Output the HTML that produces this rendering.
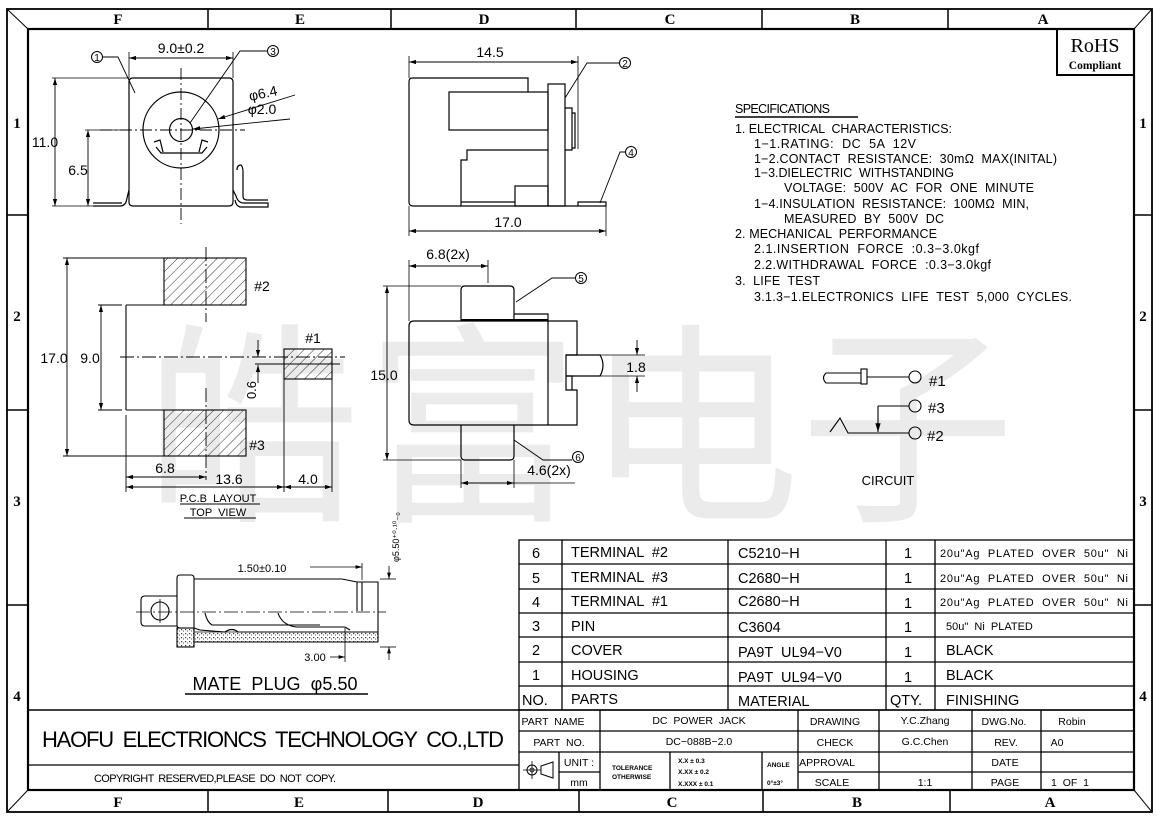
<!DOCTYPE html>
<html><head><meta charset="utf-8"><style>
html,body{margin:0;padding:0;background:#fff;}
svg{display:block;}
text{font-family:"Liberation Sans","Noto Sans CJK SC",sans-serif;fill:#000;white-space:pre;}
.s{font-family:"Liberation Serif",serif;font-weight:bold;}
</style></head><body>
<svg width="1157" height="820" viewBox="0 0 1157 820" xmlns="http://www.w3.org/2000/svg" xml:space="preserve">
<defs>
<pattern id="h" width="7" height="7" patternUnits="userSpaceOnUse" patternTransform="rotate(45)">
<line x1="0" y1="0" x2="0" y2="7" stroke="#000" stroke-width="0.8"/></pattern>
<pattern id="dots" width="4" height="4" patternUnits="userSpaceOnUse">
<rect x="1" y="1" width="1.2" height="1.2" fill="#333"/><rect x="3" y="2.5" width="1" height="1" fill="#555"/></pattern>
<marker id="a" viewBox="0 0 10 6" refX="10" refY="3" markerWidth="8" markerHeight="5" orient="auto-start-reverse"><path d="M0,0L10,3L0,6z" fill="#000"/></marker>
</defs>
<rect width="1157" height="820" fill="#fff"/>
<!-- watermark -->
<g font-family="'Noto Sans CJK SC',sans-serif" font-size="215">
<text x="145" y="505" style="fill:#ebebeb">皓</text>
<text x="365" y="505" style="fill:#ebebeb">富</text>
<text x="585" y="505" style="fill:#ebebeb">电</text>
<text x="800" y="505" style="fill:#ebebeb">子</text>
</g>
<!-- frame -->
<g stroke="#000" fill="none">
<rect x="7" y="9" width="1145" height="803" stroke-width="1.8"/>
<rect x="28" y="29" width="1106" height="761" stroke-width="2.2"/>
<line x1="7" y1="9" x2="28" y2="29"/><line x1="1152" y1="9" x2="1134" y2="29"/>
<line x1="7" y1="812" x2="28" y2="790"/><line x1="1152" y1="812" x2="1134" y2="790"/>
<g stroke-width="1.5">
<line x1="208" y1="9" x2="208" y2="29"/><line x1="391" y1="9" x2="391" y2="29"/><line x1="576" y1="9" x2="576" y2="29"/><line x1="762" y1="9" x2="762" y2="29"/><line x1="948" y1="9" x2="948" y2="29"/>
<line x1="208" y1="790" x2="208" y2="812"/><line x1="388" y1="790" x2="388" y2="812"/><line x1="579" y1="790" x2="579" y2="812"/><line x1="763" y1="790" x2="763" y2="812"/><line x1="950" y1="790" x2="950" y2="812"/>
<line x1="7" y1="215" x2="28" y2="215"/><line x1="7" y1="410" x2="28" y2="410"/><line x1="7" y1="605" x2="28" y2="605"/>
<line x1="1134" y1="215" x2="1152" y2="215"/><line x1="1134" y1="410" x2="1152" y2="410"/><line x1="1134" y1="605" x2="1152" y2="605"/>
</g></g>
<g class="s" font-size="15" text-anchor="middle">
<text class="s" x="118" y="24">F</text><text class="s" x="300" y="24">E</text><text class="s" x="484" y="24">D</text><text class="s" x="670" y="24">C</text><text class="s" x="855" y="24">B</text><text class="s" x="1043" y="24">A</text>
<text class="s" x="118" y="807">F</text><text class="s" x="299" y="807">E</text><text class="s" x="478" y="807">D</text><text class="s" x="672" y="807">C</text><text class="s" x="857" y="807">B</text><text class="s" x="1050" y="807">A</text>
<text class="s" x="17" y="128">1</text><text class="s" x="17" y="321">2</text><text class="s" x="17" y="506">3</text><text class="s" x="17" y="701">4</text>
<text class="s" x="1143" y="128">1</text><text class="s" x="1143" y="321">2</text><text class="s" x="1143" y="506">3</text><text class="s" x="1143" y="701">4</text>
</g>
<!-- RoHS -->
<rect x="1057" y="29" width="77" height="46" fill="none" stroke="#000" stroke-width="2"/>
<text x="1095" y="52" font-size="20" text-anchor="middle" style="font-family:'Liberation Serif',serif">RoHS</text>
<text class="s" x="1095" y="69" font-size="11.5" text-anchor="middle">Compliant</text>

<!-- front view top-left -->
<g stroke="#000" fill="none" stroke-width="1.2">
<path d="M133,78 H229 Q233,78 233,82 V202 Q233,206 229,206 H133 Q129,206 129,202 V82 Q129,78 133,78Z"/>
<circle cx="181" cy="130" r="38"/><circle cx="181" cy="130" r="11.5"/>
<path d="M156,147 L161,153 H202 L207,147"/><path d="M154,142 L160,140 L163,152"/><path d="M208,142 L202,140 L199,152"/>
<path d="M93,206 H120 Q126,206 127,198 L129,190"/><line x1="93" y1="203" x2="122" y2="203"/>
<path d="M233,190 L236,196 Q238,203 244,203 H268 V207 H240 Q236,206 235,200"/>
<path d="M237,170 Q237,165 241,165 Q243,167 243,172 V196 Q243,200 247,200 H268"/>
<line x1="181" y1="68" x2="181" y2="224" stroke-dasharray="12,3,2,3" stroke-width="0.9"/>
<line x1="100" y1="130" x2="245" y2="130" stroke-dasharray="12,3,2,3" stroke-width="0.9"/>
<line x1="129" y1="52" x2="129" y2="78" stroke-width="0.8"/><line x1="233" y1="52" x2="233" y2="78" stroke-width="0.8"/>
<line x1="129" y1="58" x2="233" y2="58" marker-start="url(#a)" marker-end="url(#a)" stroke-width="0.9"/>
<line x1="52" y1="78" x2="129" y2="78" stroke-width="0.8"/><line x1="52" y1="206" x2="93" y2="206" stroke-width="0.8"/>
<line x1="55" y1="78" x2="55" y2="206" marker-start="url(#a)" marker-end="url(#a)" stroke-width="0.9"/>
<line x1="85" y1="130" x2="129" y2="130" stroke-width="0.8"/>
<line x1="88" y1="130" x2="88" y2="206" marker-start="url(#a)" marker-end="url(#a)" stroke-width="0.9"/>
<circle cx="97" cy="57" r="5.5" stroke-width="1"/><path d="M103,57 H118 L135,93" stroke-width="0.9"/>
<circle cx="273" cy="51" r="5.5" stroke-width="1"/><path d="M267,51 H240 L190,123" stroke-width="0.9"/>
<line x1="295" y1="95" x2="218" y2="119" marker-end="url(#a)" stroke-width="0.9"/>
<line x1="290" y1="119" x2="193" y2="129" marker-end="url(#a)" stroke-width="0.9"/>
</g>
<g font-size="14" text-anchor="middle">
<text x="181" y="53">9.0±0.2</text><text x="45" y="147">11.0</text><text x="78" y="175">6.5</text>
<text x="97" y="61" font-size="10">1</text><text x="273" y="55" font-size="10">3</text>
<text x="264" y="98" transform="rotate(-12 264 98)">φ6.4</text><text x="262" y="114">φ2.0</text>
</g>

<!-- side view top-middle -->
<g stroke="#000" fill="none" stroke-width="1.2">
<path d="M412,78 H528 V92"/><path d="M412,78 Q409,78 409,82 V202 Q409,206 413,206 H578"/>
<rect x="449" y="92" width="99" height="38"/>
<rect x="548" y="84" width="17" height="122"/>
<path d="M565,108 H572 V150 H565"/><path d="M572,113 H575 V148 H572"/>
<path d="M548,150 H467 V160 H461 V206"/>
<rect x="515" y="186" width="33" height="20"/><line x1="461" y1="202" x2="515" y2="202"/>
<path d="M578,206 V202 H606 V206 Z"/>
<line x1="409" y1="56" x2="409" y2="78" stroke-width="0.8"/><line x1="578" y1="56" x2="578" y2="149" stroke-width="0.8"/>
<line x1="409" y1="62" x2="578" y2="62" marker-start="url(#a)" marker-end="url(#a)" stroke-width="0.9"/>
<line x1="409" y1="206" x2="409" y2="236" stroke-width="0.8"/><line x1="606" y1="206" x2="606" y2="236" stroke-width="0.8"/>
<line x1="409" y1="231" x2="606" y2="231" marker-start="url(#a)" marker-end="url(#a)" stroke-width="0.9"/>
<circle cx="625" cy="63" r="5.5" stroke-width="1"/><path d="M619,63 H587 L565,98" stroke-width="0.9"/>
<circle cx="631" cy="152" r="5.5" stroke-width="1"/><path d="M625,152 H620 L600,203" stroke-width="0.9"/>
</g>
<g font-size="14" text-anchor="middle">
<text x="490" y="57">14.5</text><text x="508" y="227">17.0</text>
<text x="625" y="67" font-size="10">2</text><text x="631" y="156" font-size="10">4</text>
</g>

<!-- PCB layout -->
<g stroke="#000" stroke-width="1.1">
<rect x="164" y="258" width="82" height="47" fill="url(#h)"/>
<rect x="164" y="410" width="82" height="46" fill="url(#h)"/>
<rect x="284" y="349" width="48" height="30" fill="url(#h)"/>
</g>
<g stroke="#000" fill="none" stroke-width="0.9">
<line x1="120" y1="357" x2="345" y2="357" stroke-dasharray="14,3,2,3"/>
<line x1="206" y1="247" x2="206" y2="322" stroke-dasharray="14,3,2,3"/>
<line x1="206" y1="388" x2="206" y2="480" stroke-dasharray="14,3,2,3"/>
<line x1="126" y1="305" x2="126" y2="410" stroke-width="1.1"/><line x1="126" y1="305" x2="164" y2="305" stroke-width="1.1"/><line x1="126" y1="410" x2="164" y2="410" stroke-width="1.1"/>
<line x1="126" y1="415" x2="126" y2="492"/>
<line x1="63" y1="258" x2="164" y2="258"/><line x1="63" y1="456" x2="164" y2="456"/>
<line x1="67" y1="258" x2="67" y2="456" marker-start="url(#a)" marker-end="url(#a)"/>
<line x1="98" y1="305" x2="122" y2="305"/><line x1="98" y1="410" x2="122" y2="410"/>
<line x1="101" y1="305" x2="101" y2="410" marker-start="url(#a)" marker-end="url(#a)"/>
<line x1="258" y1="340" x2="258" y2="357" marker-end="url(#a)"/>
<line x1="258" y1="383" x2="258" y2="365" marker-end="url(#a)"/>
<line x1="255" y1="364" x2="340" y2="364"/>
<line x1="284" y1="379" x2="284" y2="492"/><line x1="332" y1="379" x2="332" y2="492"/>
<line x1="126" y1="477" x2="206" y2="477" marker-start="url(#a)" marker-end="url(#a)"/>
<line x1="126" y1="487" x2="284" y2="487" marker-start="url(#a)" marker-end="url(#a)"/>
<line x1="284" y1="487" x2="332" y2="487" marker-start="url(#a)" marker-end="url(#a)"/>
<line x1="180" y1="504" x2="260" y2="504"/><line x1="184" y1="518" x2="256" y2="518"/>
</g>
<g font-size="14" text-anchor="middle">
<text x="262" y="291">#2</text><text x="313" y="343">#1</text><text x="257" y="450">#3</text>
<text x="54" y="363">17.0</text><text x="90" y="363">9.0</text>
<text x="256" y="390" transform="rotate(-90 256 390)" font-size="13">0.6</text>
<text x="165" y="473">6.8</text><text x="229" y="484">13.6</text><text x="308" y="484">4.0</text>
<text x="218" y="502" font-size="11">P.C.B  LAYOUT</text><text x="218" y="516" font-size="11">TOP  VIEW</text>
</g>

<!-- bottom view middle -->
<g stroke="#000" fill="none" stroke-width="1.2">
<path d="M414,321 H577 V355 H566 V390 H577 V425 H414 Q409,425 409,420 V326 Q409,321 414,321Z"/>
<line x1="548" y1="321" x2="548" y2="425"/>
<path d="M461,321 V290 Q461,286 465,286 H510 Q514,286 514,290 V321"/>
<path d="M461,425 V456 Q461,460 465,460 H510 Q514,460 514,456 V425"/>
<path d="M514,314 H548 V321"/><line x1="461" y1="320" x2="548" y2="320" stroke-width="2"/>
<path d="M566,355 H600 Q606,365 600,376 H566"/><path d="M566,376 H572 V390"/>
<line x1="409" y1="260" x2="409" y2="321" stroke-width="0.8"/><line x1="488" y1="260" x2="488" y2="283" stroke-width="0.8"/>
<line x1="409" y1="266" x2="488" y2="266" marker-start="url(#a)" marker-end="url(#a)" stroke-width="0.9"/>
<line x1="383" y1="286" x2="461" y2="286" stroke-width="0.8"/><line x1="383" y1="460" x2="461" y2="460" stroke-width="0.8"/>
<line x1="387" y1="286" x2="387" y2="460" marker-start="url(#a)" marker-end="url(#a)" stroke-width="0.9"/>
<line x1="600" y1="355" x2="645" y2="355" stroke-width="0.8"/><line x1="600" y1="376" x2="645" y2="376" stroke-width="0.8"/>
<line x1="637" y1="340" x2="637" y2="355" marker-end="url(#a)" stroke-width="0.9"/>
<line x1="637" y1="392" x2="637" y2="376" marker-end="url(#a)" stroke-width="0.9"/>
<line x1="461" y1="460" x2="461" y2="488" stroke-width="0.8"/><line x1="514" y1="460" x2="514" y2="488" stroke-width="0.8"/>
<line x1="461" y1="483" x2="514" y2="483" marker-start="url(#a)" marker-end="url(#a)" stroke-width="0.9"/>
<line x1="514" y1="483" x2="575" y2="483" stroke-width="0.8"/>
<circle cx="581" cy="278" r="5.5" stroke-width="1"/><path d="M575,278 H552 L516,302" stroke-width="0.9"/>
<circle cx="578" cy="457" r="5.5" stroke-width="1"/><path d="M514,440 L543,460 H572" stroke-width="0.9"/>
</g>
<g font-size="14" text-anchor="middle">
<text x="448" y="259">6.8(2x)</text><text x="384" y="380">15.0</text><text x="636" y="372">1.8</text>
<text x="549" y="475">4.6(2x)</text>
<text x="581" y="282" font-size="10">5</text><text x="578" y="461" font-size="10">6</text>
</g>

<!-- specifications -->
<g font-size="12.5">
<text x="735" y="113" textLength="95">SPECIFICATIONS</text>
<line x1="735" y1="117" x2="858" y2="117" stroke="#000" stroke-width="1.6"/>
<text x="735" y="133" textLength="217">1. ELECTRICAL  CHARACTERISTICS:</text>
<text x="754" y="148" textLength="162">1−1.RATING:  DC  5A  12V</text>
<text x="754" y="163" textLength="303">1−2.CONTACT  RESISTANCE:  30mΩ  MAX(INITAL)</text>
<text x="754" y="177" textLength="200">1−3.DIELECTRIC  WITHSTANDING</text>
<text x="784" y="192" textLength="250">VOLTAGE:  500V  AC  FOR  ONE  MINUTE</text>
<text x="754" y="208" textLength="275">1−4.INSULATION  RESISTANCE:  100MΩ  MIN,</text>
<text x="784" y="223" textLength="160">MEASURED  BY  500V  DC</text>
<text x="735" y="238" textLength="202">2. MECHANICAL  PERFORMANCE</text>
<text x="754" y="253" textLength="225">2.1.INSERTION  FORCE  :0.3−3.0kgf</text>
<text x="754" y="269" textLength="237">2.2.WITHDRAWAL  FORCE  :0.3−3.0kgf</text>
<text x="735" y="285" textLength="85">3.  LIFE  TEST</text>
<text x="754" y="301" textLength="318">3.1.3−1.ELECTRONICS  LIFE  TEST  5,000  CYCLES.</text>
</g>

<!-- circuit -->
<g stroke="#000" fill="none" stroke-width="1.1">
<path d="M861,373 H826 Q821,378 826,383 H861"/>
<rect x="861" y="369" width="6" height="15"/>
<line x1="867" y1="377" x2="909" y2="377"/><circle cx="915" cy="377" r="6"/>
<line x1="878" y1="406" x2="909" y2="406"/><circle cx="915" cy="406" r="6"/>
<line x1="878" y1="406" x2="878" y2="432" marker-end="url(#a)"/>
<path d="M830,432 L840,418 L848,433 H909"/><circle cx="915" cy="433" r="6"/>
</g>
<g font-size="15"><text x="929" y="386">#1</text><text x="928" y="413">#3</text><text x="927" y="441">#2</text></g>
<text x="888" y="485" font-size="13" text-anchor="middle">CIRCUIT</text>

<!-- mate plug -->
<g stroke="#000" fill="none" stroke-width="1.1">
<path d="M177,596 H145 Q141,596 141,600 V622 Q141,626 145,626 H177"/>
<circle cx="160" cy="611" r="9"/><line x1="160" y1="599" x2="160" y2="623" stroke-width="0.8"/>
<path d="M180,575 H191 Q194,575 194,578 V628 H180 Q177,628 177,625 V578 Q177,575 180,575Z"/>
<rect x="177" y="628" width="17" height="19" fill="url(#dots)"/>
<path d="M194,579 H342 L357,582 H378 V642"/>
<line x1="357" y1="582" x2="357" y2="611"/><line x1="362" y1="582" x2="362" y2="611"/>
<path d="M205,613 Q207,622 212,625 H320"/><path d="M278,613 Q282,625 296,627 H345 L350,630"/>
<path d="M194,628 L200,630 L225,632 Q232,627 238,632 L378,632"/>
<rect x="194" y="632" width="184" height="10" fill="url(#dots)" stroke-width="0.7"/>
<line x1="194" y1="642" x2="378" y2="642"/>
<line x1="136" y1="612" x2="386" y2="612" stroke-dasharray="14,3,2,3" stroke-width="0.8"/>
<line x1="310" y1="567" x2="362" y2="567" marker-end="url(#a)" stroke-width="0.8"/><line x1="362" y1="563" x2="362" y2="580" stroke-width="0.8"/>
<line x1="380" y1="579" x2="396" y2="579" stroke-width="0.8"/><line x1="380" y1="647" x2="396" y2="647" stroke-width="0.8"/>
<line x1="389" y1="566" x2="389" y2="579" marker-end="url(#a)" stroke-width="0.8"/>
<line x1="389" y1="660" x2="389" y2="647" marker-end="url(#a)" stroke-width="0.8"/>
<line x1="330" y1="657" x2="345" y2="657" marker-end="url(#a)" stroke-width="0.8"/><line x1="345" y1="628" x2="345" y2="662" stroke-width="0.8"/>
<line x1="185" y1="694" x2="368" y2="694" stroke-width="1.6"/>
</g>
<text x="262" y="572" font-size="11" text-anchor="middle">1.50±0.10</text>
<text x="399" y="562" font-size="9" transform="rotate(-90 399 562)">φ5.50⁺⁰·¹⁰₋₀</text>
<text x="315" y="661" font-size="11" text-anchor="middle">3.00</text>
<text x="275" y="690" font-size="18" text-anchor="middle" textLength="165">MATE  PLUG  φ5.50</text>

<!-- parts table -->
<g stroke="#000" fill="none" stroke-width="1.3">
<rect x="519" y="540" width="615" height="170"/>
<line x1="519" y1="564" x2="1134" y2="564"/><line x1="519" y1="589" x2="1134" y2="589"/><line x1="519" y1="613" x2="1134" y2="613"/>
<line x1="519" y1="637" x2="1134" y2="637"/><line x1="519" y1="662" x2="1134" y2="662"/><line x1="519" y1="686" x2="1134" y2="686"/>
<line x1="562" y1="540" x2="562" y2="710"/><line x1="728" y1="540" x2="728" y2="710"/><line x1="886" y1="540" x2="886" y2="710"/><line x1="935" y1="540" x2="935" y2="710"/>
</g>
<g font-size="14.5">
<text x="532" y="558">6</text><text x="571" y="557">TERMINAL  #2</text><text x="738" y="558">C5210−H</text><text x="904" y="558">1</text>
<text x="532" y="583">5</text><text x="571" y="582">TERMINAL  #3</text><text x="738" y="583">C2680−H</text><text x="904" y="583">1</text>
<text x="532" y="607">4</text><text x="571" y="606">TERMINAL  #1</text><text x="738" y="606">C2680−H</text><text x="904" y="608">1</text>
<text x="532" y="631">3</text><text x="571" y="631">PIN</text><text x="738" y="632">C3604</text><text x="904" y="632">1</text>
<text x="532" y="655">2</text><text x="571" y="655">COVER</text><text x="738" y="657">PA9T  UL94−V0</text><text x="904" y="657">1</text>
<text x="532" y="680">1</text><text x="571" y="680">HOUSING</text><text x="738" y="682">PA9T  UL94−V0</text><text x="904" y="682">1</text>
<text x="522" y="705">NO.</text><text x="571" y="704">PARTS</text><text x="738" y="706">MATERIAL</text><text x="890" y="705">QTY.</text><text x="946" y="705">FINISHING</text>
<text x="946" y="655">BLACK</text><text x="946" y="680">BLACK</text>
</g>
<g font-size="11">
<text x="940" y="557" textLength="188">20u"Ag  PLATED  OVER  50u"  Ni</text>
<text x="940" y="582" textLength="188">20u"Ag  PLATED  OVER  50u"  Ni</text>
<text x="940" y="606" textLength="188">20u"Ag  PLATED  OVER  50u"  Ni</text>
<text x="946" y="630">50u"  Ni  PLATED</text>
</g>

<!-- title block -->
<g stroke="#000" fill="none" stroke-width="1.3">
<line x1="28" y1="710" x2="1134" y2="710" stroke-width="1.6"/>
<line x1="28" y1="765" x2="519" y2="765"/>
<line x1="519" y1="710" x2="519" y2="790"/>
<line x1="519" y1="731" x2="1134" y2="731"/><line x1="519" y1="752" x2="1134" y2="752"/>
<line x1="798" y1="772" x2="1134" y2="772"/><line x1="559" y1="772" x2="600" y2="772"/>
<line x1="600" y1="710" x2="600" y2="790"/><line x1="559" y1="752" x2="559" y2="790"/>
<line x1="670" y1="752" x2="670" y2="790"/><line x1="762" y1="752" x2="762" y2="790"/>
<line x1="798" y1="710" x2="798" y2="790"/><line x1="879" y1="710" x2="879" y2="790"/><line x1="972" y1="710" x2="972" y2="790"/><line x1="1041" y1="710" x2="1041" y2="790"/>
<circle cx="532" cy="770" r="5" stroke-width="1"/><circle cx="532" cy="770" r="2" stroke-width="0.8"/><line x1="523" y1="770" x2="541" y2="770" stroke-width="0.8"/><line x1="532" y1="761" x2="532" y2="779" stroke-width="0.8"/>
<path d="M541,766 L553,762 V778 L541,774Z" stroke-width="1"/>
</g>
<text x="273" y="747" font-size="22" text-anchor="middle" textLength="462">HAOFU  ELECTRIONCS  TECHNOLOGY  CO.,LTD</text>
<text x="215" y="782" font-size="11" text-anchor="middle" textLength="242">COPYRIGHT  RESERVED,PLEASE  DO  NOT  COPY.</text>
<g font-size="10.5" text-anchor="middle">
<text x="553" y="725">PART  NAME</text><text x="699" y="724">DC  POWER  JACK</text><text x="835" y="725">DRAWING</text><text x="925" y="724">Y.C.Zhang</text><text x="1004" y="725">DWG.No.</text><text x="1072" y="725">Robin</text>
<text x="559" y="746">PART  NO.</text><text x="699" y="745">DC−088B−2.0</text><text x="835" y="746">CHECK</text><text x="925" y="745">G.C.Chen</text><text x="1006" y="746">REV.</text><text x="1057" y="746">A0</text>
<text x="579" y="766">UNIT :</text><text x="579" y="786">mm</text><text x="827" y="766">APPROVAL</text><text x="1005" y="766">DATE</text>
<text x="832" y="786">SCALE</text><text x="925" y="786">1:1</text><text x="1005" y="786">PAGE</text><text x="1070" y="786">1  OF  1</text>
</g>
<g font-size="6.5" font-weight="bold">
<text x="612" y="770">TOLERANCE</text><text x="612" y="779">OTHERWISE</text>
<text x="678" y="763">X.X ± 0.3</text><text x="678" y="774">X.XX ± 0.2</text><text x="678" y="786">X.XXX ± 0.1</text>
<text x="767" y="767">ANGLE</text><text x="767" y="785">0°±3°</text>
</g>
</svg>
</body></html>
